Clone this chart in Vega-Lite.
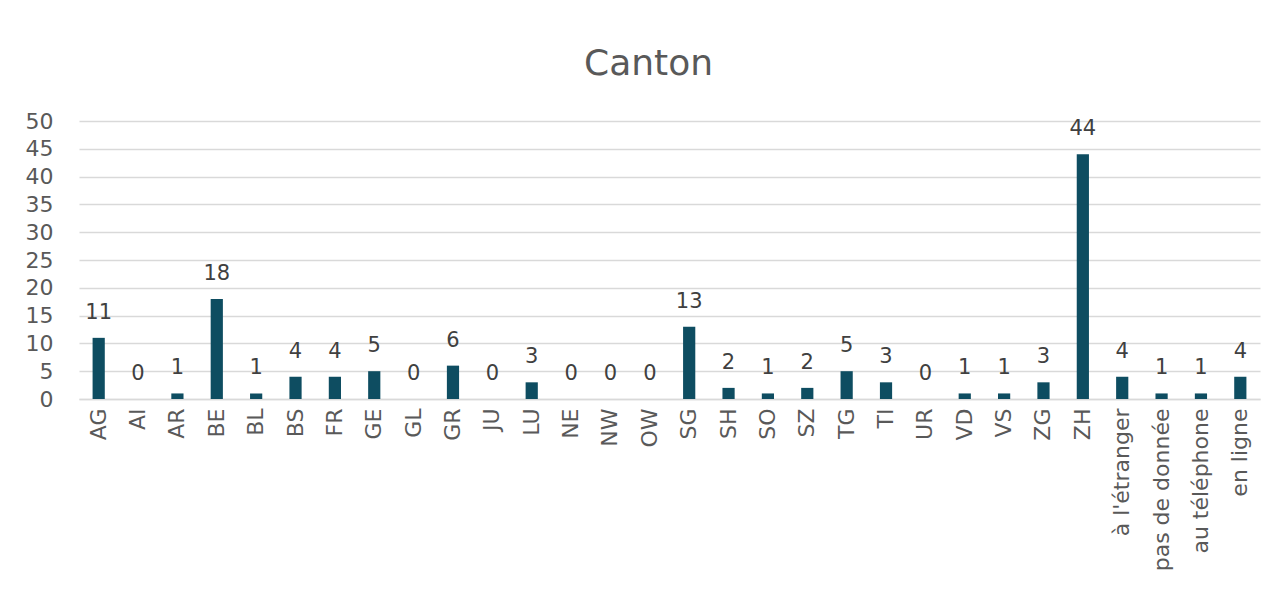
{
  "$schema": "https://vega.github.io/schema/vega-lite/v6.json",
  "width": 1181,
  "height": 278,
  "autosize": {"type": "none"},
  "padding": {"left": 79, "top": 121, "right": 19, "bottom": 202},
  "background": "white",
  "title": {"text": "Canton", "fontSize": 36, "font": "DejaVu Sans", "fontWeight": "normal", "color": "#595959", "anchor": "middle", "dx": -21, "offset": 27},
  "data": {"values": [
    {"c": "AG", "v": 11}, {"c": "AI", "v": 0}, {"c": "AR", "v": 1}, {"c": "BE", "v": 18},
    {"c": "BL", "v": 1}, {"c": "BS", "v": 4}, {"c": "FR", "v": 4}, {"c": "GE", "v": 5},
    {"c": "GL", "v": 0}, {"c": "GR", "v": 6}, {"c": "JU", "v": 0}, {"c": "LU", "v": 3},
    {"c": "NE", "v": 0}, {"c": "NW", "v": 0}, {"c": "OW", "v": 0}, {"c": "SG", "v": 13},
    {"c": "SH", "v": 2}, {"c": "SO", "v": 1}, {"c": "SZ", "v": 2}, {"c": "TG", "v": 5},
    {"c": "TI", "v": 3}, {"c": "UR", "v": 0}, {"c": "VD", "v": 1}, {"c": "VS", "v": 1},
    {"c": "ZG", "v": 3}, {"c": "ZH", "v": 44}, {"c": "à l'étranger", "v": 4},
    {"c": "pas de donnée", "v": 1}, {"c": "au téléphone", "v": 1}, {"c": "en ligne", "v": 4}
  ]},
  "encoding": {
    "x": {"field": "c", "type": "nominal", "sort": null,
      "scale": {"paddingInner": 0.69, "paddingOuter": 0.345},
      "axis": {"title": null, "labelAngle": -90, "labelFontSize": 22, "labelFont": "DejaVu Sans", "labelColor": "#595959",
        "labelPadding": 9, "ticks": false, "domain": true, "domainColor": "#d9d9d9", "domainWidth": 1.5, "labelAlign": "right", "labelBaseline": "middle", "labelLimit": 300}},
    "y": {"field": "v", "type": "quantitative",
      "scale": {"domain": [0, 50]},
      "axis": {"title": null, "values": [0, 5, 10, 15, 20, 25, 30, 35, 40, 45, 50], "labelFontSize": 22, "labelFont": "DejaVu Sans",
        "labelColor": "#595959", "labelPadding": 26, "ticks": false, "domain": false, "gridColor": "#d9d9d9", "gridWidth": 1.5}}
  },
  "layer": [
    {"mark": {"type": "bar", "color": "#0e4d61"}},
    {"mark": {"type": "text", "dy": -19, "baseline": "alphabetic", "fontSize": 21, "font": "DejaVu Sans", "color": "#404040"},
     "encoding": {"text": {"field": "v", "type": "quantitative"}}}
  ],
  "config": {"view": {"stroke": null}}
}
